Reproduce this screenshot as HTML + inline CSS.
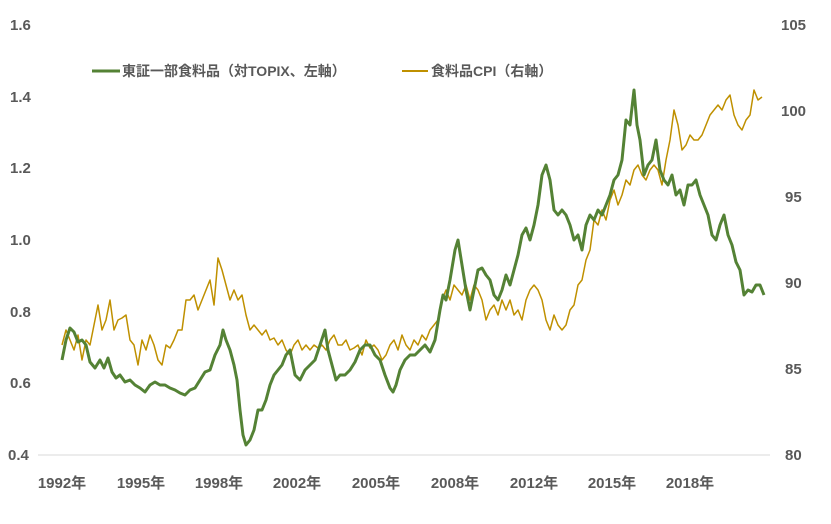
<!DOCTYPE html>
<html><head><meta charset="utf-8"><style>
html,body{margin:0;padding:0;background:#fff;}
svg text{font-family:"Liberation Sans","Noto Sans CJK JP",sans-serif;font-weight:bold;fill:#595959;}
</style></head><body>
<svg width="831" height="519" viewBox="0 0 831 519" xmlns="http://www.w3.org/2000/svg">
<line x1="38" y1="455" x2="770" y2="455" stroke="#d9d9d9" stroke-width="1"/>
<g font-size="15">
<text x="10" y="30">1.6</text>
<text x="10" y="102">1.4</text>
<text x="10" y="173">1.2</text>
<text x="10" y="245">1.0</text>
<text x="10" y="317">0.8</text>
<text x="10" y="388">0.6</text>
<text x="8" y="460">0.4</text>
<text x="781" y="30">105</text>
<text x="781" y="116">100</text>
<text x="785" y="202">95</text>
<text x="785" y="288">90</text>
<text x="785" y="374">85</text>
<text x="785" y="460">80</text>
</g>
<g font-size="15" text-anchor="middle">
<text x="62" y="488">1992年</text>
<text x="141" y="488">1995年</text>
<text x="219" y="488">1998年</text>
<text x="297" y="488">2002年</text>
<text x="376" y="488">2005年</text>
<text x="455" y="488">2008年</text>
<text x="534" y="488">2012年</text>
<text x="612" y="488">2015年</text>
<text x="690" y="488">2018年</text>
</g>
<line x1="92" y1="71" x2="120" y2="71" stroke="#548235" stroke-width="3"/>
<text x="122" y="76" font-size="14">東証一部食料品（対TOPIX、左軸）</text>
<line x1="402" y1="71" x2="428" y2="71" stroke="#bf9000" stroke-width="2"/>
<text x="431" y="76" font-size="14">食料品CPI（右軸）</text>
<polyline fill="none" stroke="#bf9000" stroke-width="1.5" stroke-linejoin="round" points="62,345 66,330 70,340 74,350 78,335 82,360 86,340 90,345 94,325 98,305 102,330 106,320 110,300 114,330 118,320 122,318 126,315 130,340 134,345 138,365 142,340 146,350 150,335 154,345 158,360 162,365 166,345 170,348 174,340 178,330 182,330 186,300 190,300 194,295 198,310 202,300 206,290 210,280 214,305 218,258 222,270 226,285 230,300 234,290 238,300 242,295 246,315 250,330 254,325 258,330 262,335 266,330 270,340 274,338 278,345 282,340 286,350 290,355 294,345 298,340 302,350 306,345 310,350 314,345 318,348 322,345 326,350 330,340 334,335 338,345 342,345 346,340 350,350 354,348 358,345 362,355 366,340 370,348 374,345 378,350 382,360 386,355 390,345 394,340 398,350 402,335 406,345 410,350 414,340 418,345 422,335 426,340 430,330 434,325 438,320 442,300 446,290 450,300 454,285 458,290 462,295 466,285 470,300 474,285 478,290 482,300 486,320 490,310 494,305 498,315 502,300 506,310 510,300 514,315 518,310 522,320 526,300 530,290 534,285 538,290 542,300 546,320 550,330 554,315 558,325 562,330 566,325 570,310 574,305 578,285 582,280 586,260 590,250 594,220 598,225 602,210 606,220 610,200 614,190 618,205 622,195 626,180 630,185 634,170 638,165 642,175 646,180 650,170 654,165 658,170 662,185 666,160 670,140 674,110 678,125 682,150 686,145 690,135 694,140 698,140 702,135 706,125 710,115 714,110 718,105 722,110 726,100 730,95 734,115 738,125 742,130 746,120 750,115 754,90 758,100 762,97"/>
<polyline fill="none" stroke="#548235" stroke-width="3" stroke-linejoin="round" points="62,360 66,340 70,328 74,332 78,342 82,340 86,345 90,362 95,368 100,360 104,368 108,358 112,372 116,378 120,375 125,382 130,380 135,385 140,388 145,392 150,385 155,382 160,385 165,385 170,388 175,390 180,393 185,395 190,390 195,388 200,380 205,372 210,370 215,355 220,345 223,330 226,340 230,350 234,365 237,380 240,410 243,435 246,445 250,440 254,430 258,410 262,410 266,400 270,385 274,375 278,370 282,365 286,355 290,350 295,375 300,380 305,370 310,365 315,360 320,345 325,330 328,350 332,365 336,380 340,375 345,375 350,370 355,362 360,350 365,345 370,345 375,355 380,360 385,375 390,388 393,392 396,385 400,370 405,360 410,355 415,355 420,350 425,345 430,352 435,340 440,310 443,295 446,300 450,280 455,250 458,240 462,265 466,290 470,310 474,290 478,270 482,268 486,275 490,280 494,295 498,300 502,290 506,275 510,285 514,270 518,255 522,235 526,228 530,240 534,225 538,205 542,175 546,165 550,180 554,210 558,215 562,210 566,215 570,225 574,240 578,235 582,250 586,225 590,215 594,220 598,210 602,215 606,205 610,195 614,180 618,175 622,160 626,120 630,125 634,90 637,125 640,140 644,175 648,165 652,160 656,140 660,170 664,180 668,185 672,175 676,195 680,190 684,205 688,185 692,185 696,180 700,195 704,205 708,215 712,235 716,240 720,225 724,215 728,235 732,245 736,262 740,270 744,295 748,290 752,292 756,285 760,285 764,295"/>
</svg>
</body></html>
